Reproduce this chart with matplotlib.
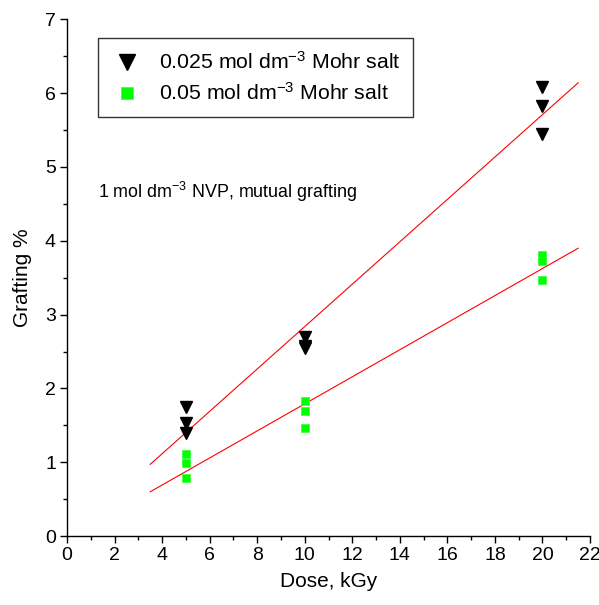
"""
Grafting yield vs. absorbed dose for two Mohr salt concentrations,
with linear fits drawn over 3.5-21.5 kGy.
"""

import matplotlib
matplotlib.use("Agg")
import matplotlib.pyplot as plt
import numpy as np
from matplotlib.ticker import MultipleLocator

plt.rcParams.update({
    "font.family": ["Liberation Sans", "DejaVu Sans"],
    "font.size": 13,
    "mathtext.fontset": "custom",
    "mathtext.rm": "Liberation Sans",
    "mathtext.it": "Liberation Sans:italic",
    "mathtext.bf": "Liberation Sans:bold",
    "axes.linewidth": 1.0,
    "xtick.direction": "out",
    "ytick.direction": "out",
})

# ── data ─────────────────────────────────────────────────────────────────
dose_025 = [5, 5, 5, 10, 10, 10, 20, 20, 20]
graft_025 = [1.75, 1.53, 1.39, 2.69, 2.58, 2.55, 6.08, 5.83, 5.45]

dose_05 = [5, 5, 5, 10, 10, 10, 20, 20, 20]
graft_05 = [1.11, 0.99, 0.78, 1.83, 1.69, 1.47, 3.81, 3.72, 3.47]

fit_range = [3.5, 21.5]

label_025 = r"0.025 mol dm$^{\mathregular{-3}}$ Mohr salt"
label_05 = r"0.05 mol dm$^{\mathregular{-3}}$ Mohr salt"
note = r"1 mol dm$^{\mathregular{-3}}$ NVP, mutual grafting"


fig = plt.figure(figsize=(5.99, 6.05), dpi=100)
ax = fig.add_axes([0.112, 0.114, 0.873, 0.854])

# linear fits
xf = np.array(fit_range)
for xs, ys in [(dose_025, graft_025), (dose_05, graft_05)]:
    k, b = np.polyfit(xs, ys, 1)
    ax.plot(xf, k * xf + b, color="red", linewidth=0.8, zorder=2)

ax.plot(dose_025, graft_025, linestyle="none", marker="v", markersize=9,
        color="black", label=label_025, zorder=3)
ax.plot(dose_05, graft_05, linestyle="none", marker="s", markersize=6.2,
        color="#00ff00", markeredgecolor="#33ff33", markeredgewidth=0.5,
        label=label_05, zorder=3)

ax.set_xlim(0, 22)
ax.set_ylim(0, 7)
ax.xaxis.set_major_locator(MultipleLocator(2))
ax.xaxis.set_minor_locator(MultipleLocator(1))
ax.yaxis.set_major_locator(MultipleLocator(1))
ax.yaxis.set_minor_locator(MultipleLocator(0.5))
ax.tick_params(which="major", length=5, width=1, labelsize=14, pad=3)
ax.tick_params(which="minor", length=3, width=1)

for side in ("top", "right"):
    ax.spines[side].set_visible(False)

ax.set_xlabel("Dose, kGy", fontsize=15, labelpad=6)
ax.set_ylabel("Grafting %", fontsize=15, labelpad=9)

ax.text(1.3, 4.66, note, fontsize=12.9, ha="left", va="center")

leg = ax.legend(loc="upper left", bbox_to_anchor=(0.06, 0.963),
                fontsize=15.3, frameon=True, fancybox=False,
                edgecolor="black", borderpad=0.6, handletextpad=0.75,
                labelspacing=0.42, handlelength=1.5, borderaxespad=0,
                markerscale=1.35)
leg.get_frame().set_linewidth(1.0)

fig.savefig("out.png", dpi=100)
